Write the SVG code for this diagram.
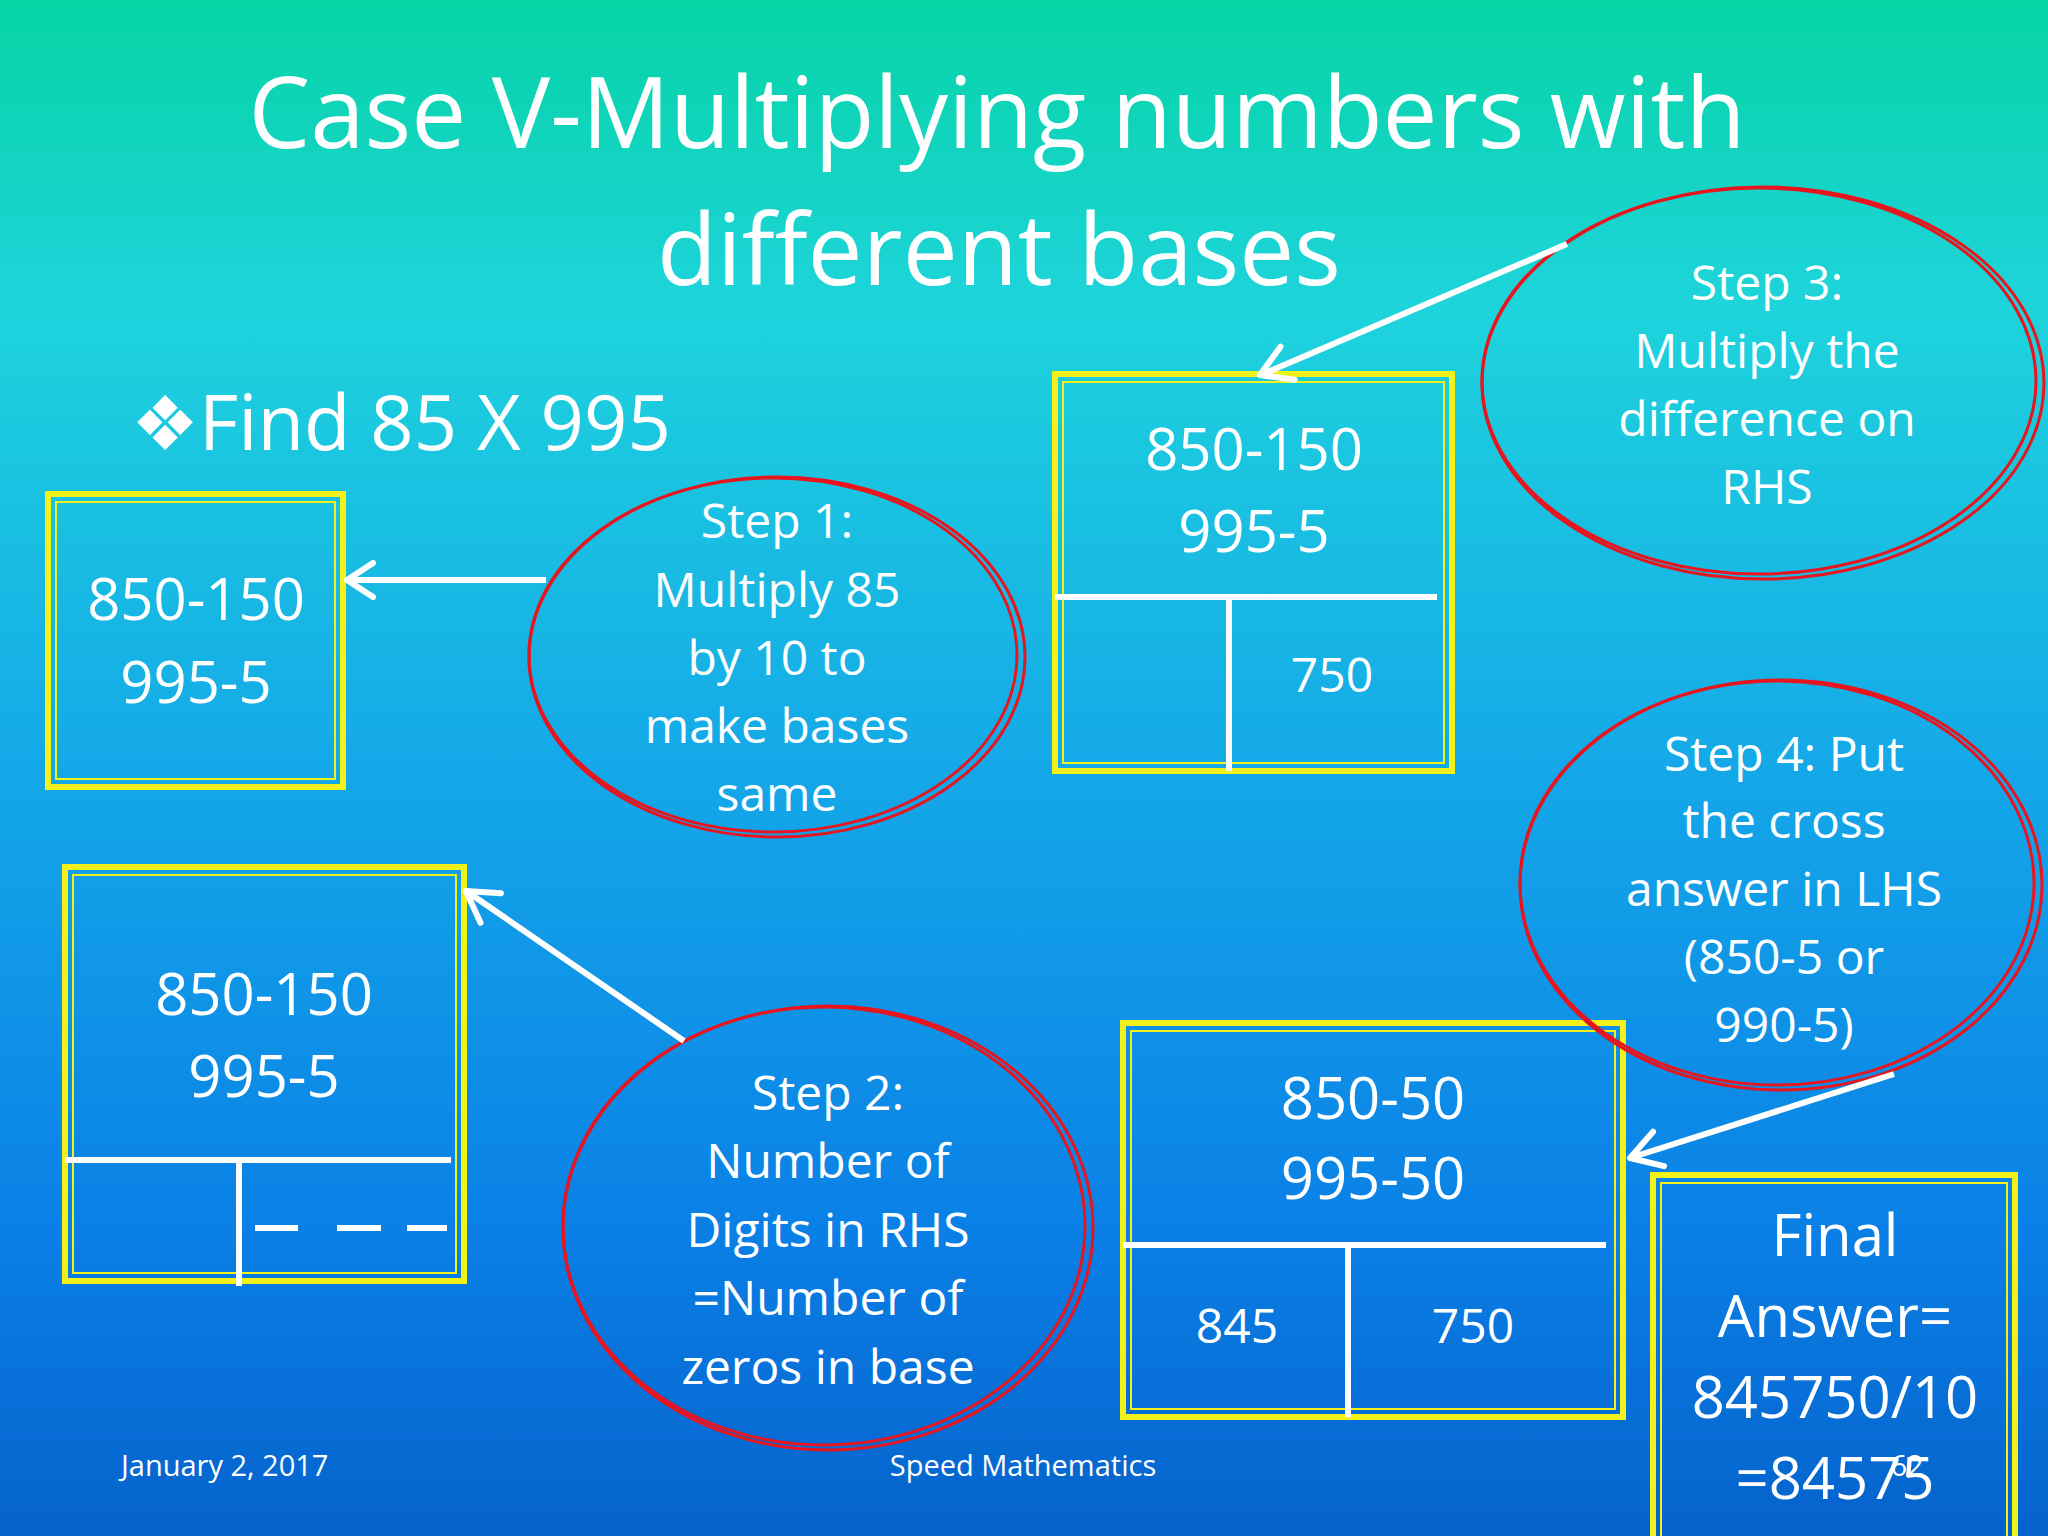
<svg xmlns="http://www.w3.org/2000/svg" width="2048" height="1536" viewBox="0 0 2048 1536">
<defs>
<linearGradient id="bg" x1="0" y1="0" x2="0" y2="1">
<stop offset="0" stop-color="#06d4a4"/><stop offset="0.2" stop-color="#1ed4dc"/><stop offset="0.5" stop-color="#14a8e8"/><stop offset="0.8" stop-color="#0a80e6"/><stop offset="1" stop-color="#0562cc"/>
</linearGradient>
</defs>
<style>
text{font-family:"Open Sans","Noto Sans",sans-serif;fill:#fff;text-anchor:middle}
.t{font-size:98px}.b{font-size:58px}.e{font-size:48px}.f{font-size:29px}
.yo{fill:none;stroke:#f2f21a;stroke-width:6}.yi{fill:none;stroke:#f2f21a;stroke-width:2}
.r{fill:none;stroke:#e8141e;stroke-width:3}
.w{stroke:#fff;stroke-width:6;fill:none}
.h{stroke:#fff;stroke-width:6;fill:none;stroke-linecap:round;stroke-linejoin:round}
</style>
<rect width="2048" height="1536" fill="url(#bg)"/>
<text class="t" x="997" y="148">Case V-Multiplying numbers with</text>
<text class="t" x="999" y="285">different bases</text>
<text x="131" y="450" style="font-size:76px;text-anchor:start">❖Find 85 X 995</text>
<text class="f" x="121" y="1476" style="text-anchor:start">January 2, 2017</text>
<text class="f" x="1023" y="1476">Speed Mathematics</text>
<text class="f" x="1907" y="1476">62</text>

<g id="box1"><rect class="yo" x="48" y="494" width="295" height="293"/><rect class="yi" x="56" y="502" width="279" height="277"/>
<text class="b" x="196" y="620">850-150</text><text class="b" x="196" y="703">995-5</text></g>

<g id="box2"><rect class="yo" x="1055" y="374" width="397" height="397"/><rect class="yi" x="1063" y="382" width="381" height="381"/>
<text class="b" x="1254" y="470">850-150</text><text class="b" x="1254" y="552">995-5</text>
<line class="w" x1="1055" y1="597" x2="1437" y2="597"/><line class="w" x1="1229" y1="597" x2="1229" y2="771"/>
<text class="e" x="1332" y="692">750</text></g>

<g id="box3"><rect class="yo" x="65" y="867" width="399" height="414"/><rect class="yi" x="73" y="875" width="383" height="398"/>
<text class="b" x="264" y="1015">850-150</text><text class="b" x="264" y="1097">995-5</text>
<line class="w" x1="65" y1="1160" x2="451" y2="1160"/><line class="w" x1="239" y1="1160" x2="239" y2="1286"/>
<line class="w" x1="255" y1="1228" x2="298" y2="1228"/><line class="w" x1="337" y1="1228" x2="381" y2="1228"/><line class="w" x1="407" y1="1228" x2="447" y2="1228"/></g>

<g id="box4"><rect class="yo" x="1123" y="1023" width="500" height="394"/><rect class="yi" x="1131" y="1031" width="484" height="378"/>
<text class="b" x="1373" y="1119">850-50</text><text class="b" x="1373" y="1199">995-50</text>
<line class="w" x1="1123" y1="1245" x2="1606" y2="1245"/><line class="w" x1="1348" y1="1245" x2="1348" y2="1417"/>
<text class="e" x="1237" y="1343">845</text><text class="e" x="1473" y="1343">750</text></g>

<g id="box5"><rect class="yo" x="1653" y="1175" width="362" height="370"/><rect class="yi" x="1661" y="1183" width="346" height="360"/>
<text class="b" x="1835" y="1256">Final</text><text class="b" x="1835" y="1337">Answer=</text><text class="b" x="1835" y="1418">845750/10</text><text class="b" x="1835" y="1499">=84575</text></g>

<g id="step1"><ellipse class="r" cx="777" cy="657" rx="248" ry="180"/><ellipse class="r" cx="773" cy="655" rx="244" ry="177"/>
<text class="e" x="777" y="538">Step 1:</text><text class="e" x="777" y="607">Multiply 85</text><text class="e" x="777" y="675">by 10 to</text><text class="e" x="777" y="743">make bases</text><text class="e" x="777" y="811">same</text></g>

<g id="step3"><ellipse class="r" cx="1763" cy="383" rx="281" ry="196"/><ellipse class="r" cx="1759" cy="381" rx="277" ry="193"/>
<text class="e" x="1767" y="300">Step 3:</text><text class="e" x="1767" y="368">Multiply the</text><text class="e" x="1767" y="436">difference on</text><text class="e" x="1767" y="504">RHS</text></g>

<g id="step2"><ellipse class="r" cx="828" cy="1228" rx="265" ry="222"/><ellipse class="r" cx="824" cy="1226" rx="261" ry="219"/>
<text class="e" x="828" y="1110">Step 2:</text><text class="e" x="828" y="1178">Number of</text><text class="e" x="828" y="1247">Digits in RHS</text><text class="e" x="828" y="1315">=Number of</text><text class="e" x="828" y="1384">zeros in base</text></g>

<g id="step4"><ellipse class="r" cx="1781" cy="885" rx="261" ry="205"/><ellipse class="r" cx="1777" cy="883" rx="257" ry="202"/>
<text class="e" x="1784" y="771">Step 4: Put</text><text class="e" x="1784" y="838">the cross</text><text class="e" x="1784" y="906">answer in LHS</text><text class="e" x="1784" y="974">(850-5 or</text><text class="e" x="1784" y="1042">990-5)</text></g>

<g id="connectors">
<line class="w" x1="546" y1="580" x2="349" y2="580"/><path class="h" d="M373,563 L347,580 L373,597"/>
<line class="w" x1="1567" y1="244" x2="1263" y2="374"/><path class="h" d="M1280.5,346.7 L1260,375 L1294.7,379.7"/>
<line class="w" x1="684" y1="1041" x2="469" y2="893"/><path class="h" d="M500.9,893.2 L466,891 L480.5,922.8"/>
<line class="w" x1="1894" y1="1074" x2="1633" y2="1157"/><path class="h" d="M1664.1,1166.1 L1630,1158 L1653.1,1131.7"/>
</g>
</svg>
